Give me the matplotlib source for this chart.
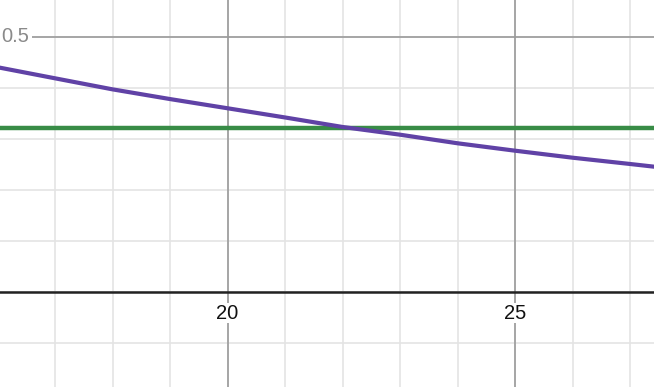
import numpy as np
import matplotlib.pyplot as plt

# purple curve
x_curve = [16.04, 17, 18, 19, 20, 21, 22, 23, 24, 25, 26, 27, 27.42]
y_curve = [0.4394, 0.4186, 0.397, 0.378, 0.360, 0.342, 0.3234, 0.3083, 0.2915, 0.277, 0.2633, 0.251, 0.2457]
green_level = 0.322

x_ticks = [20, 25]
y_ticks = [0.5]
x_minor = np.arange(16, 28, 1)
y_minor = np.arange(-0.1, 0.6, 0.1)

xmin, xmax = 16.043, 27.417
ymin, ymax = -0.1853, 0.5718

fig = plt.figure(figsize=(6.54, 3.87), dpi=100)
ax = fig.add_axes([0, 0, 1, 1])
ax.set_xlim(xmin, xmax)
ax.set_ylim(ymin, ymax)
ax.axis('off')

# minor grid
for x in x_minor:
    ax.axvline(x, color='#e4e4e4', lw=1.2, zorder=1)
for y in y_minor:
    ax.axhline(y, color='#e4e4e4', lw=1.2, zorder=1)
# major grid
for x in x_ticks:
    ax.axvline(x, color='#9a9a9a', lw=1.2, zorder=2)
for y in y_ticks:
    ax.axhline(y, color='#9a9a9a', lw=1.2, zorder=2)
# x axis
ax.axhline(0, color='#222222', lw=1.8, zorder=3)

for x in x_ticks:
    ax.text(x, -0.0225, str(x), ha='center', va='top', fontsize=14.5,
            family='Liberation Sans', color='#111111', zorder=4,
            bbox=dict(facecolor='white', edgecolor='none', pad=0.5))
for y in y_ticks:
    ax.text(xmin + 0.03, y, str(y), ha='left', va='center', fontsize=14.5,
            family='Liberation Sans', color='#8a8a8a', zorder=4,
            bbox=dict(facecolor='white', edgecolor='none', pad=1.5))

ax.axhline(green_level, color='#388c46', lw=3.2, zorder=5)
ax.plot(x_curve, y_curve, color='#6042a6', lw=3.0, zorder=6)

fig.savefig('out.png', dpi=100)
